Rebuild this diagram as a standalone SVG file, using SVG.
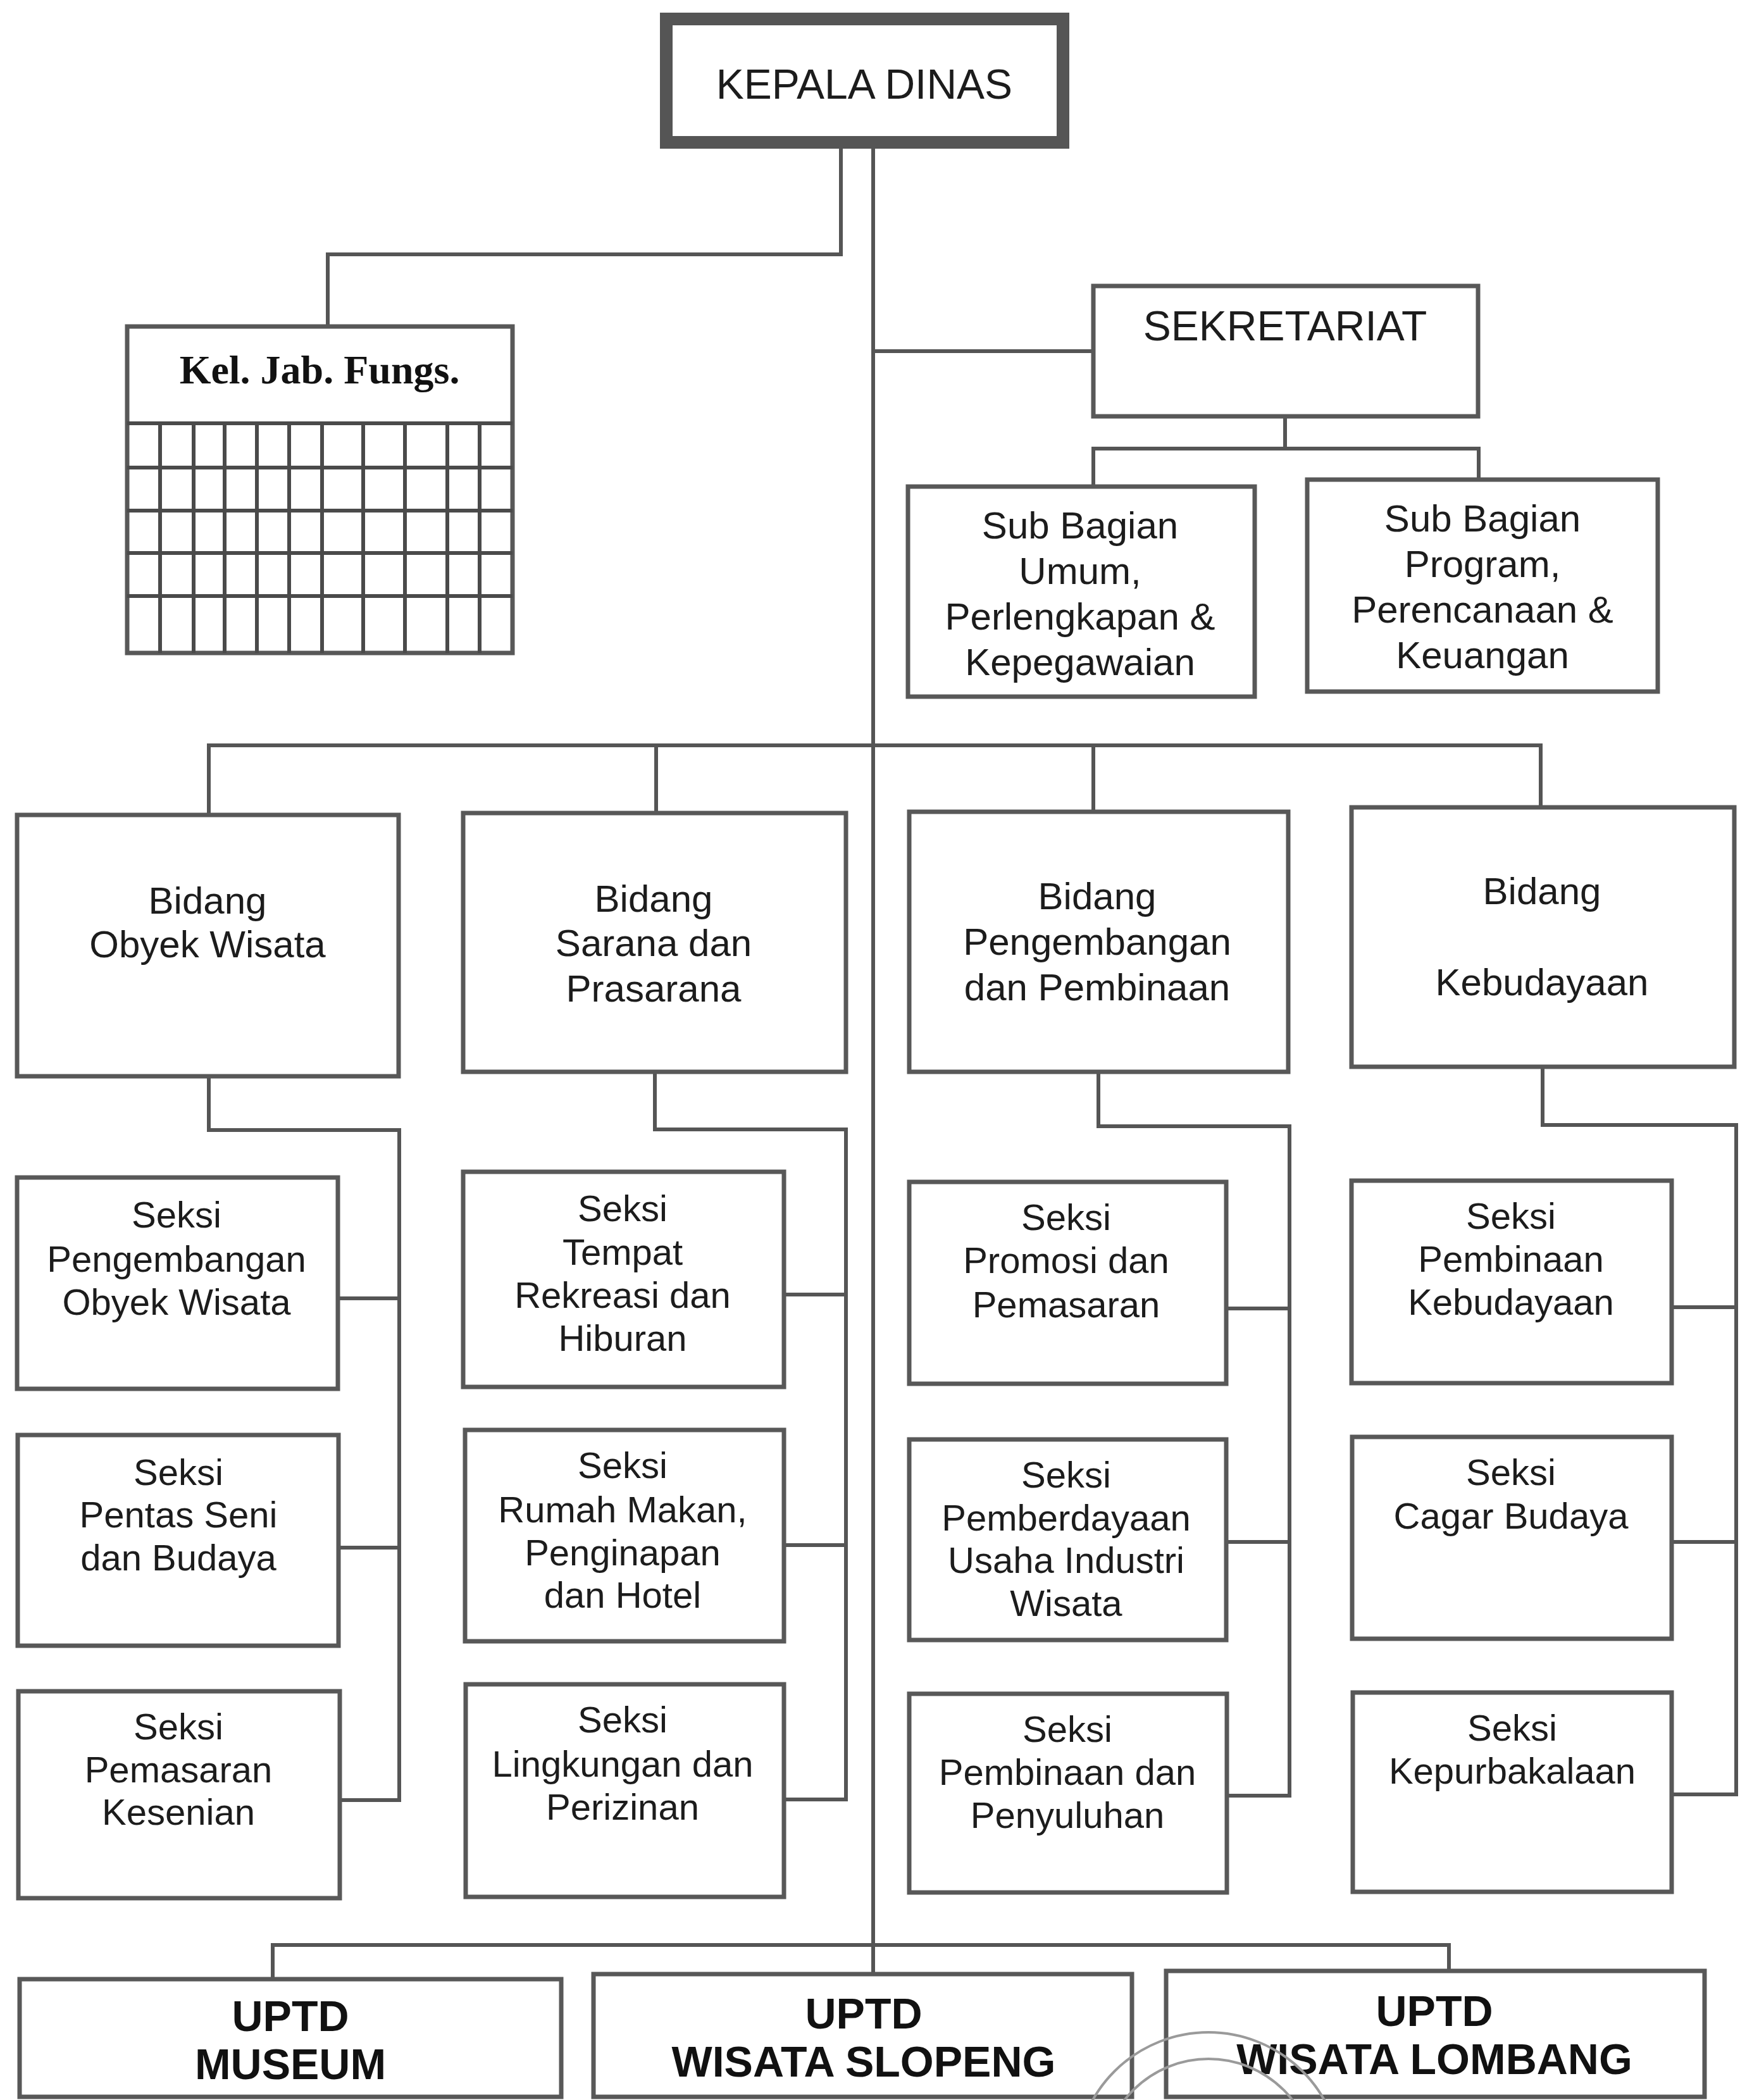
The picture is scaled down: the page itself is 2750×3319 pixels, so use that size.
<svg xmlns="http://www.w3.org/2000/svg" width="2750" height="3319" viewBox="0 0 2750 3319">
  <style>
    .box { fill: #ffffff; stroke: #585858; stroke-width: 7; }
    .head { fill: #ffffff; stroke: #555555; stroke-width: 20; }
    .grid { stroke: #4a4a4a; stroke-width: 6; fill: none; }
    .wire { fill: none; stroke: #555555; stroke-width: 6; stroke-linecap: square; }
    .t { font-family: "Liberation Sans", Arial, sans-serif; fill: #1c1c1c; text-anchor: middle; }
    .big { font-size: 66px; }
    .bid { font-size: 60px; }
    .sek { font-size: 58px; }
    .uptd { font-size: 68px; font-weight: bold; fill: #111111; }
    .serif { font-family: "Liberation Serif", "Times New Roman", serif; font-weight: bold; font-size: 64px; fill: #111111; text-anchor: middle; }
    .stamp { fill: none; stroke: #9a9a9a; stroke-width: 4; }
  </style>

  <rect width="2750" height="3319" fill="#ffffff"/>

  <!-- connectors -->
  <g id="connectors">
    <path class="wire" d="M1380,235 V3120"/>
    <path class="wire" d="M1329,235 V402 H518 V516"/>
    <path class="wire" d="M1380,555 H1728"/>
    <path class="wire" d="M2031,658 V709 M1728,709 H2337 M1728,709 V769 M2337,709 V758"/>
    <path class="wire" d="M330,1178 H2435 M330,1178 V1288 M1037,1178 V1285 M1728,1178 V1283 M2435,1178 V1276"/>
    <path class="wire" d="M330,1701 V1786 H631 V2845 M534,2052 H631 M535,2446 H631 M537,2845 H631"/>
    <path class="wire" d="M1035,1694 V1785 H1337 V2844 M1239,2046 H1337 M1239,2442 H1337 M1239,2844 H1337"/>
    <path class="wire" d="M1736,1694 V1780 H2038 V2838 M1938,2068 H2038 M1938,2437 H2038 M1939,2838 H2038"/>
    <path class="wire" d="M2438,1686 V1778 H2744 V2836 M2642,2066 H2744 M2642,2437 H2744 M2642,2836 H2744"/>
    <path class="wire" d="M431,3074 H2290 M431,3074 V3128 M2290,3074 V3115"/>
  </g>

  <!-- head -->
  <g id="kepala-dinas">
    <rect class="head" x="1053" y="30" width="627" height="195"/>
    <text class="t big" x="1366" y="156">KEPALA DINAS</text>
  </g>

  <!-- functional group with grid -->
  <g id="kel-jab-fungs">
    <rect class="box" x="201" y="516" width="609" height="516"/>
    <text class="serif" x="505" y="606">Kel. Jab. Fungs.</text>
    <path class="grid" d="M201,669 H810 M201,739 H810 M201,807 H810 M201,874 H810 M201,942 H810"/>
    <path class="grid" d="M253,669 V1032 M306,669 V1032 M355,669 V1032 M406,669 V1032 M457,669 V1032 M509,669 V1032 M574,669 V1032 M640,669 V1032 M707,669 V1032 M758,669 V1032"/>
  </g>

  <g id="sekretariat">
    <rect class="box" x="1728" y="452" width="608" height="206"/>
    <text class="t big" x="2031" y="538">SEKRETARIAT</text>
  </g>

  <g id="sub-bagian-umum">
    <rect class="box" x="1435" y="769" width="548" height="332"/>
    <text class="t bid" x="1707" y="851">Sub Bagian</text>
    <text class="t bid" x="1707" y="923">Umum,</text>
    <text class="t bid" x="1707" y="995">Perlengkapan &amp;</text>
    <text class="t bid" x="1707" y="1067">Kepegawaian</text>
  </g>

  <g id="sub-bagian-program">
    <rect class="box" x="2066" y="758" width="554" height="335"/>
    <text class="t bid" x="2343" y="840">Sub Bagian</text>
    <text class="t bid" x="2343" y="912">Program,</text>
    <text class="t bid" x="2343" y="984">Perencanaan &amp;</text>
    <text class="t bid" x="2343" y="1056">Keuangan</text>
  </g>

  <!-- bidang -->
  <g id="bidang-obyek-wisata">
    <rect class="box" x="27" y="1288" width="603" height="413"/>
    <text class="t bid" x="328" y="1444">Bidang</text>
    <text class="t bid" x="328" y="1513">Obyek Wisata</text>
  </g>
  <g id="bidang-sarana">
    <rect class="box" x="732" y="1285" width="605" height="409"/>
    <text class="t bid" x="1033" y="1441">Bidang</text>
    <text class="t bid" x="1033" y="1511">Sarana dan</text>
    <text class="t bid" x="1033" y="1583">Prasarana</text>
  </g>
  <g id="bidang-pengembangan">
    <rect class="box" x="1437" y="1283" width="599" height="411"/>
    <text class="t bid" x="1734" y="1437">Bidang</text>
    <text class="t bid" x="1734" y="1509">Pengembangan</text>
    <text class="t bid" x="1734" y="1581">dan Pembinaan</text>
  </g>
  <g id="bidang-kebudayaan">
    <rect class="box" x="2136" y="1276" width="605" height="410"/>
    <text class="t bid" x="2437" y="1429">Bidang</text>
    <text class="t bid" x="2437" y="1573">Kebudayaan</text>
  </g>

  <!-- seksi, column 1 -->
  <g id="seksi-pengembangan-obyek">
    <rect class="box" x="27" y="1861" width="507" height="334"/>
    <text class="t sek" x="279" y="1940">Seksi</text>
    <text class="t sek" x="279" y="2010">Pengembangan</text>
    <text class="t sek" x="279" y="2078">Obyek Wisata</text>
  </g>
  <g id="seksi-pentas-seni">
    <rect class="box" x="28" y="2268" width="507" height="333"/>
    <text class="t sek" x="282" y="2347">Seksi</text>
    <text class="t sek" x="282" y="2414">Pentas Seni</text>
    <text class="t sek" x="282" y="2482">dan Budaya</text>
  </g>
  <g id="seksi-pemasaran-kesenian">
    <rect class="box" x="29" y="2673" width="508" height="327"/>
    <text class="t sek" x="282" y="2749">Seksi</text>
    <text class="t sek" x="282" y="2817">Pemasaran</text>
    <text class="t sek" x="282" y="2884">Kesenian</text>
  </g>

  <!-- seksi, column 2 -->
  <g id="seksi-tempat-rekreasi">
    <rect class="box" x="732" y="1852" width="507" height="340"/>
    <text class="t sek" x="984" y="1930">Seksi</text>
    <text class="t sek" x="984" y="1999">Tempat</text>
    <text class="t sek" x="984" y="2067">Rekreasi dan</text>
    <text class="t sek" x="984" y="2135">Hiburan</text>
  </g>
  <g id="seksi-rumah-makan">
    <rect class="box" x="735" y="2260" width="504" height="334"/>
    <text class="t sek" x="984" y="2336">Seksi</text>
    <text class="t sek" x="984" y="2406">Rumah Makan,</text>
    <text class="t sek" x="984" y="2474">Penginapan</text>
    <text class="t sek" x="984" y="2541">dan Hotel</text>
  </g>
  <g id="seksi-lingkungan">
    <rect class="box" x="736" y="2662" width="503" height="336"/>
    <text class="t sek" x="984" y="2738">Seksi</text>
    <text class="t sek" x="984" y="2808">Lingkungan dan</text>
    <text class="t sek" x="984" y="2876">Perizinan</text>
  </g>

  <!-- seksi, column 3 -->
  <g id="seksi-promosi">
    <rect class="box" x="1437" y="1868" width="501" height="319"/>
    <text class="t sek" x="1685" y="1944">Seksi</text>
    <text class="t sek" x="1685" y="2012">Promosi dan</text>
    <text class="t sek" x="1685" y="2082">Pemasaran</text>
  </g>
  <g id="seksi-pemberdayaan">
    <rect class="box" x="1437" y="2275" width="501" height="317"/>
    <text class="t sek" x="1685" y="2351">Seksi</text>
    <text class="t sek" x="1685" y="2419">Pemberdayaan</text>
    <text class="t sek" x="1685" y="2486">Usaha Industri</text>
    <text class="t sek" x="1685" y="2554">Wisata</text>
  </g>
  <g id="seksi-pembinaan-penyuluhan">
    <rect class="box" x="1437" y="2677" width="502" height="314"/>
    <text class="t sek" x="1687" y="2753">Seksi</text>
    <text class="t sek" x="1687" y="2821">Pembinaan dan</text>
    <text class="t sek" x="1687" y="2889">Penyuluhan</text>
  </g>

  <!-- seksi, column 4 -->
  <g id="seksi-pembinaan-kebudayaan">
    <rect class="box" x="2136" y="1866" width="506" height="320"/>
    <text class="t sek" x="2388" y="1942">Seksi</text>
    <text class="t sek" x="2388" y="2010">Pembinaan</text>
    <text class="t sek" x="2388" y="2078">Kebudayaan</text>
  </g>
  <g id="seksi-cagar-budaya">
    <rect class="box" x="2137" y="2271" width="505" height="319"/>
    <text class="t sek" x="2388" y="2347">Seksi</text>
    <text class="t sek" x="2388" y="2416">Cagar Budaya</text>
  </g>
  <g id="seksi-kepurbakalaan">
    <rect class="box" x="2138" y="2675" width="504" height="315"/>
    <text class="t sek" x="2390" y="2751">Seksi</text>
    <text class="t sek" x="2390" y="2819">Kepurbakalaan</text>
  </g>

  <!-- UPTD -->
  <g id="uptd-museum">
    <rect class="box" x="31" y="3128" width="856" height="186"/>
    <text class="t uptd" x="459" y="3210">UPTD</text>
    <text class="t uptd" x="459" y="3286">MUSEUM</text>
  </g>
  <g id="uptd-slopeng">
    <rect class="box" x="938" y="3120" width="851" height="194"/>
    <text class="t uptd" x="1365" y="3206">UPTD</text>
    <text class="t uptd" x="1365" y="3282">WISATA SLOPENG</text>
  </g>
  <g id="uptd-lombang">
    <rect class="box" x="1843" y="3115" width="851" height="199"/>
    <text class="t uptd" x="2267" y="3202">UPTD</text>
    <text class="t uptd" x="2267" y="3278">WISATA LOMBANG</text>
  </g>

  <!-- faint seal overlapping the bottom row -->
  <g id="seal">
    <circle class="stamp" cx="1910" cy="3422" r="210"/>
    <circle class="stamp" cx="1910" cy="3422" r="168"/>
  </g>
</svg>
